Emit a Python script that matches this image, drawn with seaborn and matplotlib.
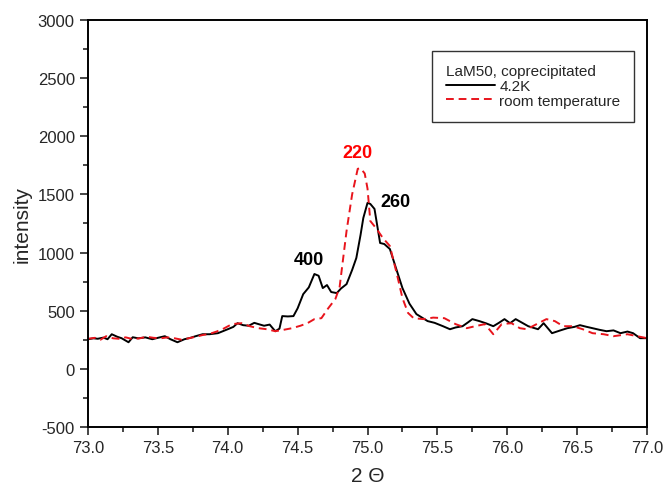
import matplotlib
matplotlib.use("Agg")
import matplotlib.pyplot as plt
import seaborn as sns
import pandas as pd
from matplotlib.ticker import MultipleLocator

# data
x_42k = [73.00, 73.04, 73.07, 73.11, 73.14, 73.17, 73.21, 73.24, 73.29, 73.32, 73.36, 73.41,
         73.46, 73.50, 73.55, 73.59, 73.64, 73.69, 73.73, 73.77, 73.82, 73.87, 73.93, 74.00,
         74.04, 74.07, 74.11, 74.15, 74.19, 74.22, 74.26, 74.30, 74.34, 74.37, 74.39, 74.43,
         74.47, 74.50, 74.54, 74.58, 74.62, 74.65, 74.68, 74.71, 74.74, 74.78, 74.81, 74.85,
         74.89, 74.92, 74.95, 74.97, 75.00, 75.02, 75.05, 75.09, 75.12, 75.16, 75.20, 75.25,
         75.30, 75.35, 75.39, 75.43, 75.48, 75.54, 75.59, 75.63, 75.68, 75.72, 75.75, 75.80,
         75.85, 75.90, 75.94, 75.98, 76.02, 76.06, 76.10, 76.15, 76.22, 76.26, 76.32, 76.38,
         76.43, 76.48, 76.52, 76.57, 76.61, 76.66, 76.71, 76.76, 76.81, 76.86, 76.90, 76.95, 77.00]
y_42k = [254, 262, 258, 268, 254, 297, 275, 263, 228, 271, 262, 270,
         254, 266, 280, 254, 228, 254, 265, 280, 297, 297, 306, 340,
         360, 392, 375, 370, 395, 384, 370, 380, 323, 345, 453, 450,
         453, 520, 642, 700, 815, 800, 694, 720, 660, 651, 690, 728,
         850, 953, 1150, 1297, 1427, 1418, 1375, 1082, 1073, 1030, 880, 694,
         560, 470, 440, 410, 395, 366, 340, 355, 366, 400, 427, 410,
         390, 366, 395, 427, 392, 427, 400, 366, 340, 392, 306, 330,
         349, 360, 375, 360, 349, 335, 323, 330, 306, 320, 306, 263, 263]

x_rt = [73.00, 73.05, 73.09, 73.13, 73.18, 73.22, 73.27, 73.32, 73.37, 73.42, 73.47, 73.52,
        73.57, 73.62, 73.67, 73.72, 73.77, 73.82, 73.87, 73.92, 73.97, 74.03, 74.10, 74.16,
        74.22, 74.28, 74.34, 74.40, 74.46, 74.52, 74.57, 74.62, 74.67, 74.72, 74.77, 74.80,
        74.85, 74.89, 74.93, 74.95, 74.98, 75.00, 75.02, 75.06, 75.11, 75.16, 75.21, 75.25,
        75.29, 75.33, 75.40, 75.47, 75.55, 75.63, 75.71, 75.77, 75.84, 75.90, 75.96, 76.03,
        76.09, 76.14, 76.21, 76.28, 76.34, 76.40, 76.47, 76.54, 76.61, 76.69, 76.76, 76.86,
        76.93, 77.00]
y_rt = [258, 266, 250, 280, 262, 258, 270, 255, 262, 275, 266, 262,
        270, 262, 250, 262, 275, 290, 300, 320, 345, 384, 392, 365,
        349, 340, 323, 335, 349, 370, 392, 427, 435, 522, 600, 700,
        1185, 1500, 1720, 1725, 1680, 1550, 1271, 1211, 1125, 1056, 815, 608,
        480, 435, 427, 440, 435, 384, 349, 366, 384, 297, 384, 392,
        349, 340, 384, 427, 410, 366, 366, 340, 306, 297, 280, 297,
        280, 263]

series_names = ["4.2K", "room temperature"]
legend_title = "LaM50, coprecipitated"
peak_labels = ["400", "220", "260"]
peak_pos = [(74.58, 870), (74.93, 1790), (75.20, 1370)]
peak_colors = ["black", "red", "black"]

df = pd.concat([
    pd.DataFrame({"2theta": x_42k, "intensity": y_42k, "series": series_names[0]}),
    pd.DataFrame({"2theta": x_rt, "intensity": y_rt, "series": series_names[1]}),
])

sns.set_style("ticks")
plt.rcParams["font.family"] = ["Liberation Sans", "DejaVu Sans"]
plt.rcParams["axes.unicode_minus"] = False

fig = plt.figure(figsize=(6.65, 4.89), dpi=100)
ax = fig.add_axes([0.1323, 0.125, 0.8407, 0.832])

sns.lineplot(data=df, x="2theta", y="intensity", hue="series", style="series",
             palette={series_names[0]: "black", series_names[1]: "#e8141c"},
             dashes={series_names[0]: "", series_names[1]: (4, 2.5)},
             linewidth=1.4, sort=False, estimator=None, ax=ax)

ax.set_xlim(73.0, 77.0)
ax.set_ylim(-500, 3000)
ax.xaxis.set_major_locator(MultipleLocator(0.5))
ax.xaxis.set_minor_locator(MultipleLocator(0.25))
ax.yaxis.set_major_locator(MultipleLocator(500))
ax.yaxis.set_minor_locator(MultipleLocator(250))
ax.xaxis.set_major_formatter(matplotlib.ticker.FormatStrFormatter("%.1f"))
ax.tick_params(which="major", direction="out", length=6, width=1.2, labelsize=12,
               top=False, right=False)
ax.tick_params(which="minor", direction="out", length=3.5, width=1.2,
               top=False, right=False)
for sp in ax.spines.values():
    sp.set_linewidth(1.4)
    sp.set_color("black")

ax.set_xlabel("2 Θ", fontsize=15, labelpad=8)
ax.set_ylabel("intensity", fontsize=15, labelpad=4)

for lab, (px, py), c in zip(peak_labels, peak_pos, peak_colors):
    ax.text(px, py, lab, color=c, fontsize=13, fontweight="bold", ha="center", va="bottom")

leg = ax.legend(title=legend_title, loc="upper right", bbox_to_anchor=(0.977, 0.925),
                fontsize=11, title_fontsize=11, frameon=True, fancybox=False,
                handlelength=3.2, handletextpad=0.3, borderpad=0.9, labelspacing=0.05,
                borderaxespad=0.0)
leg.get_frame().set_edgecolor("black")
leg.get_frame().set_linewidth(1.0)
leg._legend_box.align = "left"

fig.savefig("out.png", dpi=100)
